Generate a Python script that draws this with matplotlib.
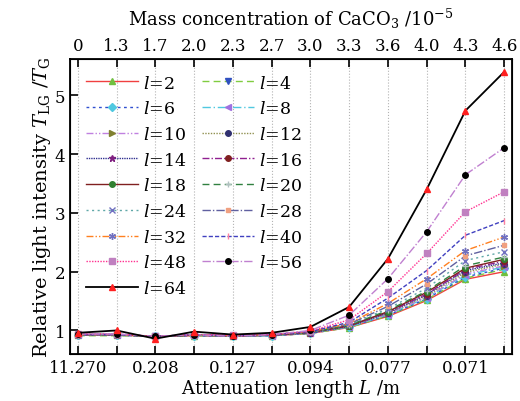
import matplotlib
matplotlib.use("Agg")
import matplotlib.pyplot as plt
import numpy as np

plt.rcParams['font.family'] = ['DejaVu Serif']
plt.rcParams['mathtext.fontset'] = 'dejavuserif'

# positions along x (index of measurement)
pos = np.arange(12)
bottom_labels = ['11.270', '', '0.208', '', '0.127', '', '0.094', '', '0.077', '', '0.071', '']
top_labels = ['0', '1.3', '1.7', '2.0', '2.3', '2.7', '3.0', '3.3', '3.6', '4.0', '4.3', '4.6']

l_values = [2, 4, 6, 8, 10, 12, 14, 16, 18, 20, 24, 28, 32, 40, 48, 56, 64]

ratio = [
    [0.92, 0.92, 0.90, 0.91, 0.90, 0.91, 0.95, 1.05, 1.24, 1.51, 1.87, 2.00],  # l=2
    [0.91, 0.91, 0.90, 0.91, 0.90, 0.91, 0.95, 1.05, 1.25, 1.53, 1.89, 2.04],  # l=4
    [0.92, 0.92, 0.90, 0.91, 0.90, 0.91, 0.95, 1.06, 1.26, 1.54, 1.91, 2.06],  # l=6
    [0.92, 0.92, 0.90, 0.92, 0.90, 0.91, 0.96, 1.06, 1.27, 1.56, 1.94, 2.08],  # l=8
    [0.92, 0.92, 0.90, 0.92, 0.90, 0.92, 0.96, 1.07, 1.28, 1.57, 1.96, 2.10],  # l=10
    [0.92, 0.92, 0.90, 0.92, 0.91, 0.92, 0.96, 1.07, 1.29, 1.59, 1.99, 2.13],  # l=12
    [0.93, 0.93, 0.90, 0.92, 0.91, 0.92, 0.96, 1.07, 1.30, 1.61, 2.02, 2.15],  # l=14
    [0.93, 0.93, 0.90, 0.92, 0.91, 0.92, 0.97, 1.08, 1.31, 1.62, 2.04, 2.18],  # l=16
    [0.93, 0.93, 0.90, 0.92, 0.91, 0.92, 0.97, 1.08, 1.32, 1.65, 2.06, 2.21],  # l=18
    [0.93, 0.93, 0.90, 0.92, 0.91, 0.93, 0.97, 1.09, 1.34, 1.67, 2.10, 2.25],  # l=20
    [0.93, 0.93, 0.90, 0.92, 0.91, 0.93, 0.97, 1.10, 1.37, 1.72, 2.19, 2.34],  # l=24
    [0.93, 0.93, 0.90, 0.93, 0.91, 0.93, 0.98, 1.11, 1.41, 1.79, 2.27, 2.45],  # l=28
    [0.93, 0.93, 0.90, 0.93, 0.91, 0.93, 0.98, 1.12, 1.46, 1.88, 2.36, 2.59],  # l=32
    [0.93, 0.93, 0.90, 0.93, 0.91, 0.93, 0.98, 1.14, 1.55, 2.02, 2.62, 2.87],  # l=40
    [0.94, 0.94, 0.90, 0.93, 0.92, 0.93, 0.99, 1.18, 1.66, 2.31, 3.02, 3.36],  # l=48
    [0.94, 0.94, 0.90, 0.93, 0.90, 0.93, 1.00, 1.26, 1.88, 2.68, 3.65, 4.11],  # l=56
    [0.96, 1.00, 0.86, 0.98, 0.93, 0.96, 1.06, 1.40, 2.22, 3.40, 4.74, 5.40],  # l=64
]

# line colour, line style, marker, marker colour
styles = [
    ('#f04040', '-', '^', '#70c040'),
    ('#80cc40', (0, (5, 3)), 'v', '#3050c0'),
    ('#3050d0', (0, (2, 2.5)), 'D', '#50c8e0'),
    ('#50c8e0', (0, (6, 2, 1, 2)), '<', '#a070e0'),
    ('#c080e0', (0, (5, 1.5, 1, 1.5, 1, 1.5)), '>', '#808030'),
    ('#909050', (0, (1, 1)), 'o', '#303070'),
    ('#303090', (0, (1, 0.7)), '*', '#802080'),
    ('#902090', (0, (5, 1.5, 1, 1.5)), 'o', '#802020'),
    ('#802020', '-', 'o', '#308030'),
    ('#308040', (0, (5, 3)), '+', '#b0c0c0'),
    ('#60a8a8', (0, (1.5, 2.5)), 'x', '#7070c0'),
    ('#6060a0', (0, (6, 1.5, 1, 1.5)), 's', '#f0a080'),
    ('#ff8020', (0, (5, 1.5, 1, 1.5, 1, 1.5)), (6, 2, 0), '#7070c0'),
    ('#4040c0', (0, (3, 1.5)), '|', '#ff80a0'),
    ('#ff3090', (0, (1, 1)), 's', '#c080c0'),
    ('#c080d0', (0, (6, 1.5, 1, 1.5)), 'o', 'black'),
    ('black', '-', '^', '#ff2020'),
]

fig = plt.figure(figsize=(5.2, 4.02), dpi=100)
ax = fig.add_axes([0.1346, 0.117, 0.85, 0.734])

handles = {}
for lv, vals, st in zip(l_values, ratio, styles):
    lc, ls, mk, mc = st
    lw = 1.3 if lv == 64 else 1.0
    ms = 4 if mk in ('s', 'D', 'o') else 5
    if lv == 28:
        ms = 3
    h, = ax.plot(pos, vals, color=lc, linestyle=ls, linewidth=lw, marker=mk,
                 markersize=ms, markerfacecolor=mc, markeredgecolor=mc,
                 markeredgewidth=1.0, label='$l$=%d' % lv, zorder=3 if lv < 56 else 4)
    handles[lv] = h

ax.set_xlim(-0.2, 11.2)
ax.set_ylim(0.6, 5.62)
ax.set_xticks(pos)
ax.set_xticklabels(bottom_labels, fontsize=12)
ax.set_yticks([1, 2, 3, 4, 5])
ax.set_yticklabels(['1', '2', '3', '4', '5'], fontsize=12)
ax.tick_params(direction='in', length=6, width=1.2, right=False)
ax.grid(axis='x', linestyle=':', color='0.7', linewidth=0.8)
for s in ax.spines.values():
    s.set_linewidth(1.3)

ax.set_xlabel('Attenuation length $L$ /m', fontsize=13, labelpad=1)
ax.set_ylabel('Relative light intensity $T_{\\rm LG}$ /$T_{\\rm G}$', fontsize=14, labelpad=1)

ax2 = ax.twiny()
ax2.set_xlim(ax.get_xlim())
ax2.set_xticks(pos)
ax2.set_xticklabels(top_labels, fontsize=12)
ax2.tick_params(direction='in', length=6, width=1.2)
ax2.set_xlabel('Mass concentration of CaCO$_3$ /10$^{-5}$', fontsize=13, labelpad=9)

col1 = [2, 6, 10, 14, 18, 24, 32, 48, 64]
col2 = [4, 8, 12, 16, 20, 28, 40, 56]
order = col1 + col2
leg = ax.legend([handles[k] for k in order], ['$l$=%d' % k for k in order],
                ncol=2, loc='upper left', bbox_to_anchor=(0.0, 1.0),
                frameon=False, fontsize=12.5, handlelength=3.0,
                handletextpad=0.3, labelspacing=0.5, columnspacing=0.9,
                borderaxespad=0.5)

fig.savefig('out.png', dpi=100)
